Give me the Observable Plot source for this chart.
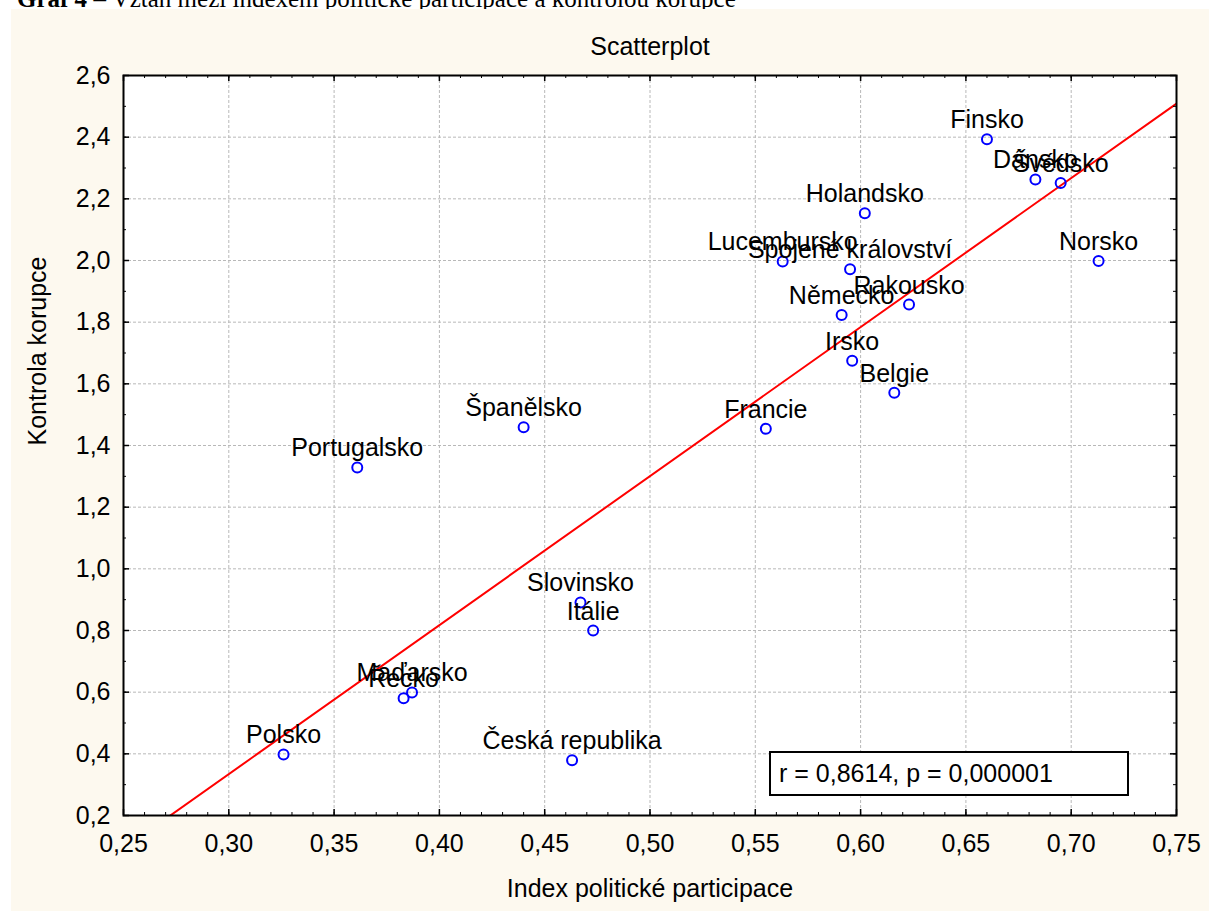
<!DOCTYPE html>
<html><head><meta charset="utf-8">
<script src="https://cdn.jsdelivr.net/npm/d3@7"></script>
<script src="https://cdn.jsdelivr.net/npm/@observablehq/plot@0.6"></script>
<style>
html,body{margin:0;padding:0;background:#fff;width:1209px;height:911px;overflow:hidden;position:relative;}
#heading{position:absolute;left:17px;top:-14px;line-height:25px;font-family:"Liberation Serif","Times New Roman",serif;font-size:25px;white-space:nowrap;color:#000;}
#panel{position:absolute;left:11px;top:9px;width:1198px;height:902px;background:#fdf9ef;}
#chart svg{display:block;}
#stat{position:absolute;left:758px;top:742px;width:348px;height:41px;border:2px solid #000;background:#fff;box-sizing:content-box;
  font-family:"Liberation Sans",Arial,sans-serif;font-size:25px;line-height:41px;padding-left:8px;color:#000;white-space:nowrap;}
</style></head><body>
<div id="heading"><b>Graf 4</b> – Vztah mezi indexem politické participace a kontrolou korupce</div>
<div id="panel"><div id="chart"></div><div id="stat">r = 0,8614, p = 0,000001</div></div>
<script>
// ---- data ----
const countries = ["Finsko","Dánsko","Švédsko","Holandsko","Norsko","Lucembursko","Spojené království","Rakousko","Německo","Irsko","Belgie","Francie","Slovinsko","Itálie","Maďarsko","Řecko","Česká republika","Polsko","Portugalsko","Španělsko"];
const participation = [0.660,0.683,0.695,0.602,0.713,0.563,0.595,0.623,0.591,0.596,0.616,0.555,0.467,0.473,0.387,0.383,0.463,0.326,0.361,0.440];
const corruption = [2.393,2.263,2.251,2.153,1.998,1.997,1.972,1.857,1.823,1.675,1.571,1.454,0.891,0.800,0.599,0.580,0.379,0.398,1.329,1.459];
const xTicks = [0.25,0.30,0.35,0.40,0.45,0.50,0.55,0.60,0.65,0.70,0.75];
const yTicks = [0.2,0.4,0.6,0.8,1.0,1.2,1.4,1.6,1.8,2.0,2.2,2.4,2.6];
const title = "Scatterplot";
const xLabel = "Index politické participace";
const yLabel = "Kontrola korupce";

// ---- derived ----
const data = countries.map((c, i) => ({country: c, x: participation[i], y: corruption[i]}));
const xDomain = [xTicks[0], xTicks[xTicks.length - 1]];
const yDomain = [yTicks[0], yTicks[yTicks.length - 1]];
const xMinor = d3.range(Math.round(xDomain[0]*100), Math.round(xDomain[1]*100) + 1).map(d => d / 100);
const yMinor = d3.range(Math.round(yDomain[0]*10), Math.round(yDomain[1]*10) + 1).map(d => d / 10);
const mx = d3.mean(participation), my = d3.mean(corruption);
const slope = d3.sum(participation, (x, i) => (x - mx) * (corruption[i] - my)) / d3.sum(participation, x => (x - mx) ** 2);
const intercept = my - slope * mx;
const fit = xDomain.map(x => ({x, y: intercept + slope * x}));

const W = 1198, H = 902, mL = 112, mR = 33, mT = 66, mB = 96;
const plotW = W - mL - mR, plotH = H - mT - mB;
const font = "'Liberation Sans', Arial, sans-serif";
const gridStyle = {stroke: "#b8b8b8", strokeOpacity: 1, strokeWidth: 1, strokeDasharray: "3,2"};

const chart = Plot.plot({
  width: W, height: H,
  marginLeft: mL, marginRight: mR, marginTop: mT, marginBottom: mB,
  style: {background: "transparent", fontFamily: font, fontSize: "25px", color: "#000", overflow: "visible"},
  x: {domain: xDomain},
  y: {domain: yDomain},
  marks: [
    Plot.frame({fill: "#fff", stroke: null}),
    Plot.gridX(xTicks, gridStyle),
    Plot.gridY(yTicks, gridStyle),
    Plot.line(fit, {x: "x", y: "y", stroke: "#ff0000", strokeWidth: 2, clip: true}),
    Plot.dot(data, {x: "x", y: "y", r: 5, stroke: "#0000ff", strokeWidth: 2, fill: "none"}),
    Plot.text(data, {x: "x", y: "y", text: "country", lineAnchor: "bottom", dy: -11, fontSize: 25, fill: "#000"}),
    // inward ticks on all four sides
    Plot.tickX(xMinor, {x: d => d, insetTop: plotH - 3, stroke: "#000"}),
    Plot.tickX(xTicks, {x: d => d, insetTop: plotH - 6, stroke: "#000", strokeWidth: 1.5}),
    Plot.tickX(xMinor, {x: d => d, insetBottom: plotH - 3, stroke: "#000"}),
    Plot.tickX(xTicks, {x: d => d, insetBottom: plotH - 6, stroke: "#000", strokeWidth: 1.5}),
    Plot.tickY(yMinor, {y: d => d, insetRight: plotW - 3, stroke: "#000"}),
    Plot.tickY(yTicks, {y: d => d, insetRight: plotW - 6, stroke: "#000", strokeWidth: 1.5}),
    Plot.tickY(yMinor, {y: d => d, insetLeft: plotW - 3, stroke: "#000"}),
    Plot.tickY(yTicks, {y: d => d, insetLeft: plotW - 6, stroke: "#000", strokeWidth: 1.5}),
    Plot.frame({stroke: "#000", strokeWidth: 2}),
    Plot.axisX(xTicks, {tickSize: 0, tickPadding: 19, tickFormat: d => d.toFixed(2).replace(".", ","), fontSize: 25, label: null}),
    Plot.axisY(yTicks, {tickSize: 0, tickPadding: 13, tickFormat: d => d.toFixed(1).replace(".", ","), fontSize: 25, label: null}),
    Plot.text([title], {frameAnchor: "top", lineAnchor: "bottom", dy: -21, fontSize: 25, fill: "#000"}),
    Plot.text([xLabel], {frameAnchor: "bottom", lineAnchor: "bottom", dy: 81, fontSize: 25, fill: "#000"}),
    Plot.text([yLabel], {frameAnchor: "left", lineAnchor: "bottom", rotate: -90, dx: -78, fontSize: 25, fill: "#000"})
  ]
});
document.getElementById("chart").appendChild(chart);
</script>
</body></html>
